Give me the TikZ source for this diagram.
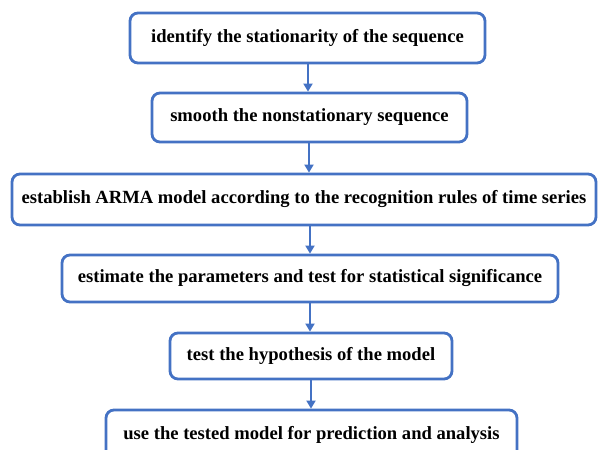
\documentclass[tikz,border=0pt]{standalone}
\usepackage{fontspec}
\setmainfont{Liberation Serif}
\usetikzlibrary{arrows.meta}
\definecolor{boxblue}{HTML}{4472C4}
\tikzset{
  stepbox/.style={draw=boxblue, line width=2.8pt, rounded corners=8pt, fill=white,
    font=\fontsize{18.6}{22}\selectfont\bfseries, inner sep=0pt, align=center},
  flow/.style={draw=boxblue, line width=1.8pt, -{Triangle[length=8pt,width=9pt]}}
}
\begin{document}
\begin{tikzpicture}[x=1pt,y=-1pt]
\useasboundingbox (0,0) rectangle (598,450);
\node[stepbox, minimum width=355pt, minimum height=50pt] (a) at (307.5,38) {identify the stationarity of the sequence};
\node[stepbox, minimum width=315pt, minimum height=49pt] (b) at (309.5,117.5) {smooth the nonstationary sequence};
\node[stepbox, minimum width=584pt, minimum height=51pt] (c) at (304,199.5) {establish ARMA model according to the recognition rules of time series};
\node[stepbox, minimum width=496pt, minimum height=47pt] (d) at (310,278.5) {estimate the parameters and test for statistical significance};
\node[stepbox, minimum width=282pt, minimum height=46pt] (e) at (311,356) {test the hypothesis of the model};
\node[stepbox, minimum width=411pt, minimum height=50pt] (f) at (311.5,435) {use the tested model for prediction and analysis};
\draw[flow] (a.south -| 308,0) -- (b.north -| 308,0);
\draw[flow] (b.south -| 309,0) -- (c.north -| 309,0);
\draw[flow] (c.south -| 310,0) -- (d.north -| 310,0);
\draw[flow] (d.south -| 310,0) -- (e.north -| 310,0);
\draw[flow] (e.south -| 311,0) -- (f.north -| 311,0);
\end{tikzpicture}
\end{document}
